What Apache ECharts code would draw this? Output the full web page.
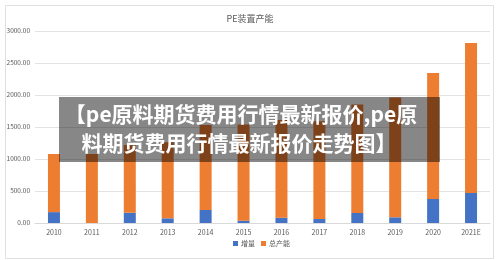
<!DOCTYPE html>
<html lang="zh" style="width:100%;height:100%">
<head>
<meta charset="UTF-8">
<title>PE装置产能</title>
<script src="https://cdn.jsdelivr.net/npm/echarts@6/dist/echarts.min.js"></script>
</head>
<body style="margin:0;width:100%;height:100%;background:#fff">
<div id="chart" style="width:500px;height:260px"></div>
<script>
// 年份
var years = ['2010', '2011', '2012', '2013', '2014', '2015', '2016', '2017', '2018', '2019', '2020', '2021E'];
// 增量 (蓝色, 底部)
var increase = [170, 0, 160, 73, 203, 36, 83, 62, 156, 89, 375, 469];
// 总产能 (橙色, 叠在上面)
var capacity = [908, 1078, 1060, 1187, 1327, 1504, 1527, 1528, 1694, 1871, 1969, 2343];
var chartTitle = 'PE装置产能';
var bannerLines = ['【pe原料期货费用行情最新报价,pe原', '料期货费用行情最新报价走势图】'];

var font = '"Noto Sans CJK SC", "Noto Sans", sans-serif';
var myChart = echarts.init(document.getElementById('chart'));

var option = {
    animation: false,
    textStyle: { fontFamily: font },
    title: {
        text: chartTitle,
        left: 'center',
        top: 9,
        textStyle: { fontSize: 9, fontWeight: 'normal', color: '#595959', fontFamily: font }
    },
    legend: {
        bottom: 8,
        left: 228,
        itemWidth: 5,
        itemHeight: 5,
        itemGap: 6,
        icon: 'rect',
        textStyle: { fontSize: 7, color: '#595959', padding: [0, 0, 0, -2] },
        data: ['增量', '总产能']
    },
    grid: { left: 35, right: 10, top: 31, bottom: 37 },
    xAxis: {
        type: 'category',
        data: years,
        axisLine: { lineStyle: { color: '#d9d9d9' } },
        axisTick: { show: false },
        axisLabel: { fontSize: 7, color: '#595959', margin: 6 }
    },
    yAxis: {
        type: 'value',
        min: 0,
        max: 3000,
        interval: 500,
        axisLine: { show: false },
        axisTick: { show: false },
        splitLine: { lineStyle: { color: '#e3e3e3' } },
        axisLabel: {
            fontSize: 6.5,
            color: '#595959',
            margin: 5,
            formatter: function (v) { return v.toFixed(2); }
        }
    },
    series: [
        {
            name: '增量',
            type: 'bar',
            stack: 'total',
            barWidth: 12,
            itemStyle: { color: '#4472C4' },
            data: increase
        },
        {
            name: '总产能',
            type: 'bar',
            stack: 'total',
            barWidth: 12,
            itemStyle: { color: '#ED7D31' },
            data: capacity
        }
    ],
    graphic: [
        {
            type: 'rect',
            left: 3, top: 3,
            shape: { width: 488, height: 253 },
            style: { fill: 'none', stroke: '#e0e0e0', lineWidth: 1 },
            z: 1
        },
        {
            type: 'rect',
            left: 59, top: 97,
            shape: { width: 381, height: 65 },
            style: { fill: 'rgba(0,0,0,0.47)' },
            z: 100
        },
        {
            type: 'text',
            x: 241, y: 114,
            style: {
                text: bannerLines[0],
                fill: '#fff',
                font: 'bold 21px ' + font,
                align: 'center',
                verticalAlign: 'middle'
            },
            z: 101
        },
        {
            type: 'text',
            x: 239, y: 143,
            style: {
                text: bannerLines[1],
                fill: '#fff',
                font: 'bold 21px ' + font,
                align: 'center',
                verticalAlign: 'middle'
            },
            z: 101
        }
    ]
};

myChart.setOption(option);
</script>
</body>
</html>
